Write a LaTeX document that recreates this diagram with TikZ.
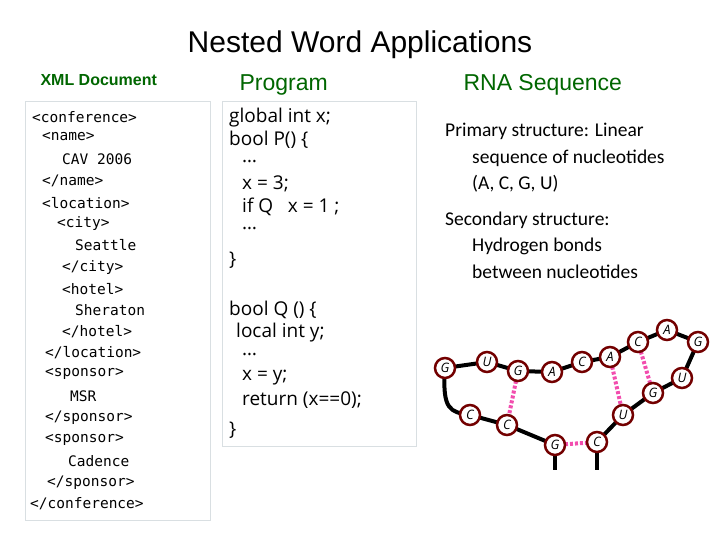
\documentclass[tikz,border=0pt]{standalone}
\usepackage{fontspec}
\setmainfont{Liberation Sans}
\newfontfamily\cfont{Open Sans}
\newfontfamily\ffont{Carlito}
\newfontfamily\mfont{DejaVu Sans Mono}
\begin{document}
\begin{tikzpicture}[x=1pt,y=-1pt,
  box/.style={draw=cyan!15!gray!30,line width=1pt},
  xml/.style={anchor=west,inner sep=0,font=\mfont\fontsize{14.5}{16}\selectfont},
  prog/.style={anchor=west,inner sep=0,font=\cfont\fontsize{19}{22}\selectfont},
  rna/.style={anchor=west,inner sep=0,font=\ffont\fontsize{19.5}{22}\selectfont},
  nuc/.style={circle,draw=red!45!black,line width=2.5pt,fill=white,minimum size=20pt,inner sep=0,font=\cfont\itshape\fontsize{13}{14}\selectfont},
  bb/.style={line width=4pt,black},
  hb/.style={line width=4pt,magenta!70!white,dash pattern=on 3pt off 2pt}]
\useasboundingbox (0,0) rectangle (720,540);
\node (title) at (360,45) {\fontsize{30}{34}\selectfont Nested Word Applications};
\node[anchor=west,text=green!40!black,font=\bfseries\fontsize{16}{18}\selectfont] (xmlh) at (37,80) {XML Document};
\node[anchor=west,text=green!40!black,font=\fontsize{23}{26}\selectfont] (progh) at (236,85) {Program};
\node[anchor=west,text=green!40!black,font=\fontsize{23}{26}\selectfont] (rnah) at (460,85) {RNA Sequence};
\draw[box] (25,102) rectangle (210,520);
\draw[box] (222,102) rectangle (416,446);
\foreach \t/\x/\y [count=\i] in {{<conference>}/32/117,{<name>}/42/137,{CAV 2006}/62/159,{</name>}/42/181,{<location>}/42/203,{<city>}/57/224,{Seattle}/75/245,{</city>}/62/267,{<hotel>}/62/289,{Sheraton}/75/310,{</hotel>}/62/332,{</location>}/45/353,{<sponsor>}/45/374,{MSR}/70/396,{</sponsor>}/45/418,{<sponsor>}/45/440,{Cadence}/68/461,{</sponsor>}/47/483,{</conference>}/30/504}
  \node[xml] (x\i) at (\x,\y) {\t};
\foreach \t/\x/\y [count=\i] in {{global int x;}/229/118,{bool P() \{}/229/140,{…}/242/162,{x = 3;}/242/184,{if Q~~~x = 1 ;}/242/207,{…}/242/229,{\}}/229/260,{bool Q () \{}/229/310,{local int y;}/236/333,{…}/242/355,{x = y;}/242/378,{return (x==0);}/242/400,{\}}/229/430}
  \node[prog] (p\i) at (\x,\y) {\t};
\foreach \t/\x/\y [count=\i] in {{Primary structure: Linear}/445/131,{sequence of nucleotides}/472/158,{(A, C, G, U)}/472/184,{Secondary structure:}/445/220,{Hydrogen bonds}/472/246,{between nucleotides}/472/272}
  \node[rna] (r\i) at (\x,\y) {\t};
\coordinate (e1) at (555,470); \coordinate (e2) at (597,470);
\coordinate (G1) at (445,368); \coordinate (U1) at (487,362);
\coordinate (G2) at (518,371); \coordinate (A1) at (552,372);
\coordinate (C1) at (582,362); \coordinate (A2) at (610,357);
\coordinate (C2) at (638,342); \coordinate (A3) at (667,330);
\coordinate (G3) at (698,342); \coordinate (U2) at (682,378);
\coordinate (G4) at (653,393); \coordinate (U3) at (623,415);
\coordinate (C3) at (597,442); \coordinate (G5) at (555,445);
\coordinate (C4) at (507,425); \coordinate (C5) at (470,415);
\draw[bb] (C3) -- (e2); \draw[bb] (G5) -- (e1);
\draw[bb,line join=round] (G1) -- (U1) -- (G2) -- (A1) -- (C1) -- (A2) -- (C2) -- (A3) -- (G3) -- (U2) -- (G4) -- (U3) -- (C3);
\draw[bb,line join=round] (G5) -- (C4) -- (C5) .. controls (450,412) and (442,410) .. (G1);
\draw[hb] (G2) -- (C4); \draw[hb] (A2) -- (U3); \draw[hb] (C2) -- (G4); \draw[hb] (G5) -- (C3);
\foreach \n/\l in {G1/G,U1/U,G2/G,A1/A,C1/C,A2/A,C2/C,A3/A,G3/G,U2/U,G4/G,U3/U,C3/C,G5/G,C4/C,C5/C}
  \node[nuc] (n\n) at (\n) {\l};
\end{tikzpicture}
\end{document}
